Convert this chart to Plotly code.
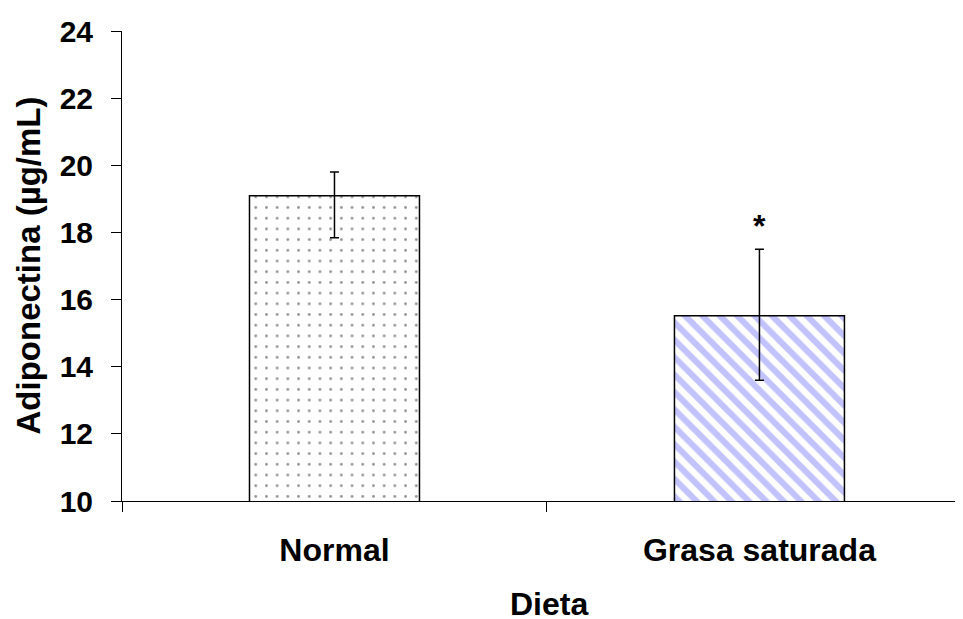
import plotly.graph_objects as go

categories = ["Normal", "Grasa saturada"]
means = [19.09, 15.52]
err_plus = [0.71, 1.98]
err_minus = [1.25, 1.92]
y_ticks = [10, 12, 14, 16, 18, 20, 22, 24]
significance = ["", "*"]

FONT = "Arial, 'Liberation Sans', sans-serif"

# page body has an 8px margin, so the figure is drawn from (8, 8)
W, H = 955, 611
L, T, B = 114, 23, 118
PW, PH = W - L, H - T - B

fig = go.Figure()
fig.add_trace(go.Bar(
    x=categories,
    y=means,
    width=0.4,
    marker=dict(
        color="white",
        line=dict(color="black", width=1.5),
        pattern=dict(
            shape=[".", "\\"],
            fgcolor=["#222222", "#8585ff"],
            bgcolor=["white", "white"],
            size=[10.7, 12.3],
            solidity=[0.05, 0.5],
            fillmode="overlay",
        ),
    ),
    error_y=dict(
        type="data",
        symmetric=False,
        array=err_plus,
        arrayminus=err_minus,
        color="black",
        thickness=1.5,
        width=4.5,
    ),
    showlegend=False,
))

for cat, m, ep, s in zip(categories, means, err_plus, significance):
    if s:
        fig.add_annotation(
            x=cat, y=m + ep, xref="x", yref="y", yshift=3,
            text=s, showarrow=False, yanchor="bottom", xanchor="center",
            font=dict(family=FONT, size=32, color="black", weight="bold"),
        )

fig.add_annotation(
    x=(27.5 - 122) / PW, y=(501 - 266) / PH, xref="paper", yref="paper",
    text="Adiponectina (µg/mL)", textangle=-90, showarrow=False,
    xanchor="center", yanchor="middle",
    font=dict(family=FONT, size=33, color="black", weight="bold"),
)
fig.add_annotation(
    x=(549 - 122) / PW, y=(501 - 604) / PH, xref="paper", yref="paper",
    text="Dieta", showarrow=False, xanchor="center", yanchor="middle",
    font=dict(family=FONT, size=32, color="black", weight="bold"),
)

fig.update_layout(
    width=W, height=H,
    margin=dict(l=L, r=0, t=T, b=B, pad=0),
    paper_bgcolor="white", plot_bgcolor="white",
    xaxis=dict(
        type="category", range=[-0.5, 1.479],
        showline=True, linecolor="black", linewidth=1,
        ticks="outside", tickson="boundaries", ticklen=10, tickcolor="black",
        tickfont=dict(family=FONT, size=32, color="black", weight="bold"),
        ticklabelstandoff=21, showgrid=False, zeroline=False,
    ),
    yaxis=dict(
        range=[10, 24], tickvals=y_ticks, ticktext=[str(v) for v in y_ticks],
        showline=True, linecolor="black", linewidth=1,
        ticks="outside", ticklen=10, tickcolor="black",
        tickfont=dict(family=FONT, size=30, color="black", weight="bold"),
        ticklabelstandoff=12, showgrid=False, zeroline=False,
    ),
)

fig.write_html("out.html")
